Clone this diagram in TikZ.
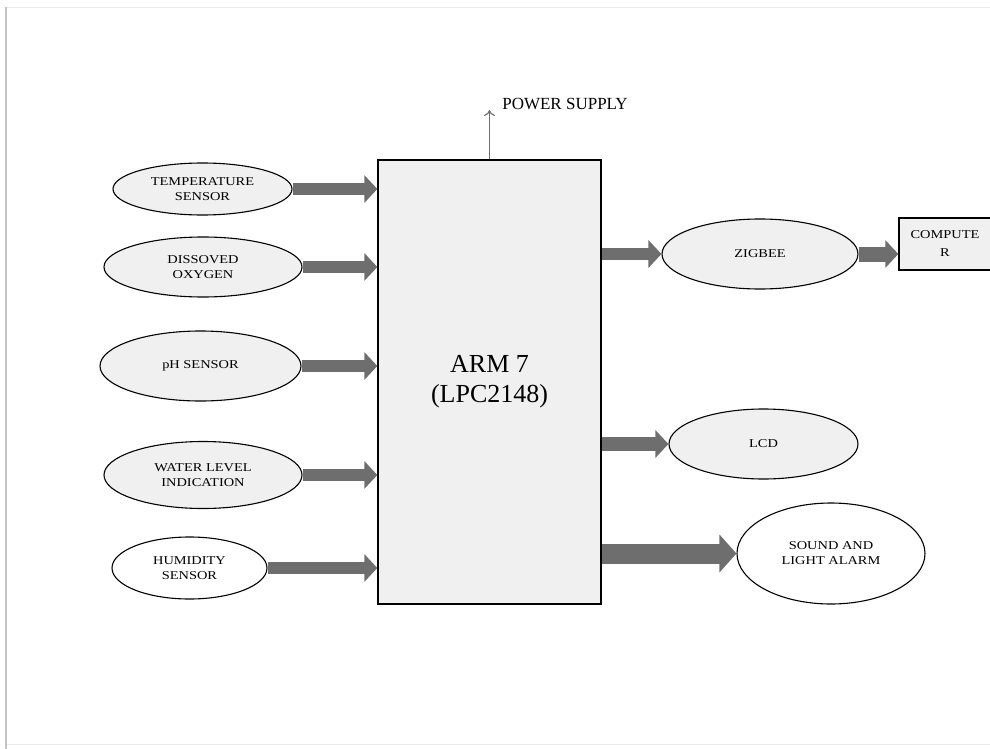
\documentclass[tikz,border=0pt]{standalone}
\usepackage{fontspec}
\setmainfont{Liberation Serif}
\newfontfamily\lblfont[FakeStretch=1.2]{Liberation Serif}
\usetikzlibrary{arrows.meta,shapes.geometric}
\definecolor{boxfill}{HTML}{F0F0F0}
\definecolor{arrgray}{HTML}{6E6E6E}
\definecolor{framegray}{HTML}{C4C4C4}
\definecolor{faint}{HTML}{EBEBEB}
\definecolor{pwrgray}{HTML}{707070}
\begin{document}
\begin{tikzpicture}[x=1pt,y=-1pt,
  sens/.style={ellipse, draw=black, line width=1.1pt, fill=boxfill, inner sep=0pt,
    align=center, font=\lblfont\fontsize{12}{15}\selectfont},
  fatarrow/.style={draw=arrgray, line width=12pt, -{Triangle[length=13pt,width=27pt]}},
  bigarrow/.style={draw=arrgray, line width=20pt, -{Triangle[length=17pt,width=37pt]}},
  pwr/.style={draw=pwrgray, line width=1.2pt, -{To[length=6pt,width=11pt]}}]
\useasboundingbox (0,0) rectangle (990,749);
% frame
\draw[framegray, line width=1.6pt] (6,7) -- (6,749);
\draw[faint, line width=0.8pt] (7,7) -- (990,7);
\draw[faint, line width=0.8pt] (7,744) -- (990,744);
% main controller
\node[draw=black, line width=1.3pt, fill=boxfill, minimum width=223pt, minimum height=444pt,
  inner sep=0pt, align=center, font=\fontsize{26}{30}\selectfont] (arm) at (489.5,382) {ARM 7\\(LPC2148)};
% power supply
\coordinate (psup) at (489.5,110);
\node[font=\fontsize{17}{20}\selectfont, inner sep=0pt] (pslabel) at (565,104) {POWER SUPPLY};
\draw[pwr] (arm.north) -- (psup);
% sensors
\node[sens, minimum width=179pt, minimum height=52pt] (temp) at (202.5,189) {TEMPERATURE\\SENSOR};
\node[sens, minimum width=198pt, minimum height=60pt] (oxy) at (203,267) {DISSOVED\\OXYGEN};
\node[sens, minimum width=201pt, minimum height=70pt] (ph) at (200.5,366) {pH SENSOR};
\node[sens, minimum width=198pt, minimum height=67pt] (water) at (203,475) {WATER LEVEL\\INDICATION};
\node[sens, fill=white, minimum width=155pt, minimum height=62pt] (hum) at (189.5,568) {HUMIDITY\\SENSOR};
% outputs
\node[sens, minimum width=196pt, minimum height=70pt] (zig) at (760,254) {ZIGBEE};
\node[draw=black, line width=1.3pt, fill=boxfill, minimum width=92pt, minimum height=52pt,
  inner sep=0pt, align=center, font=\lblfont\fontsize{12}{18}\selectfont] (comp) at (945,244) {COMPUTE\\R};
\node[sens, minimum width=189pt, minimum height=70pt] (lcd) at (763.5,444) {LCD};
\node[sens, fill=white, minimum width=188pt, minimum height=101pt] (alarm) at (831,553.5) {SOUND AND\\LIGHT ALARM};
% arrows in
\draw[fatarrow] (temp.east) -- (arm.west |- temp.east);
\draw[fatarrow] (oxy.east) -- (arm.west |- oxy.east);
\draw[fatarrow] (ph.east) -- (arm.west |- ph.east);
\draw[fatarrow] (water.east) -- (arm.west |- water.east);
\draw[fatarrow] (hum.east) -- (arm.west |- hum.east);
% arrows out
\draw[fatarrow] (arm.east |- zig.west) -- (zig.west);
\draw[fatarrow, line width=15pt] (zig.east) -- (comp.west |- zig.east);
\draw[fatarrow, line width=14pt] (arm.east |- lcd.west) -- (lcd.west);
\draw[bigarrow] (arm.east |- alarm.west) -- (alarm.west);
\end{tikzpicture}
\end{document}
